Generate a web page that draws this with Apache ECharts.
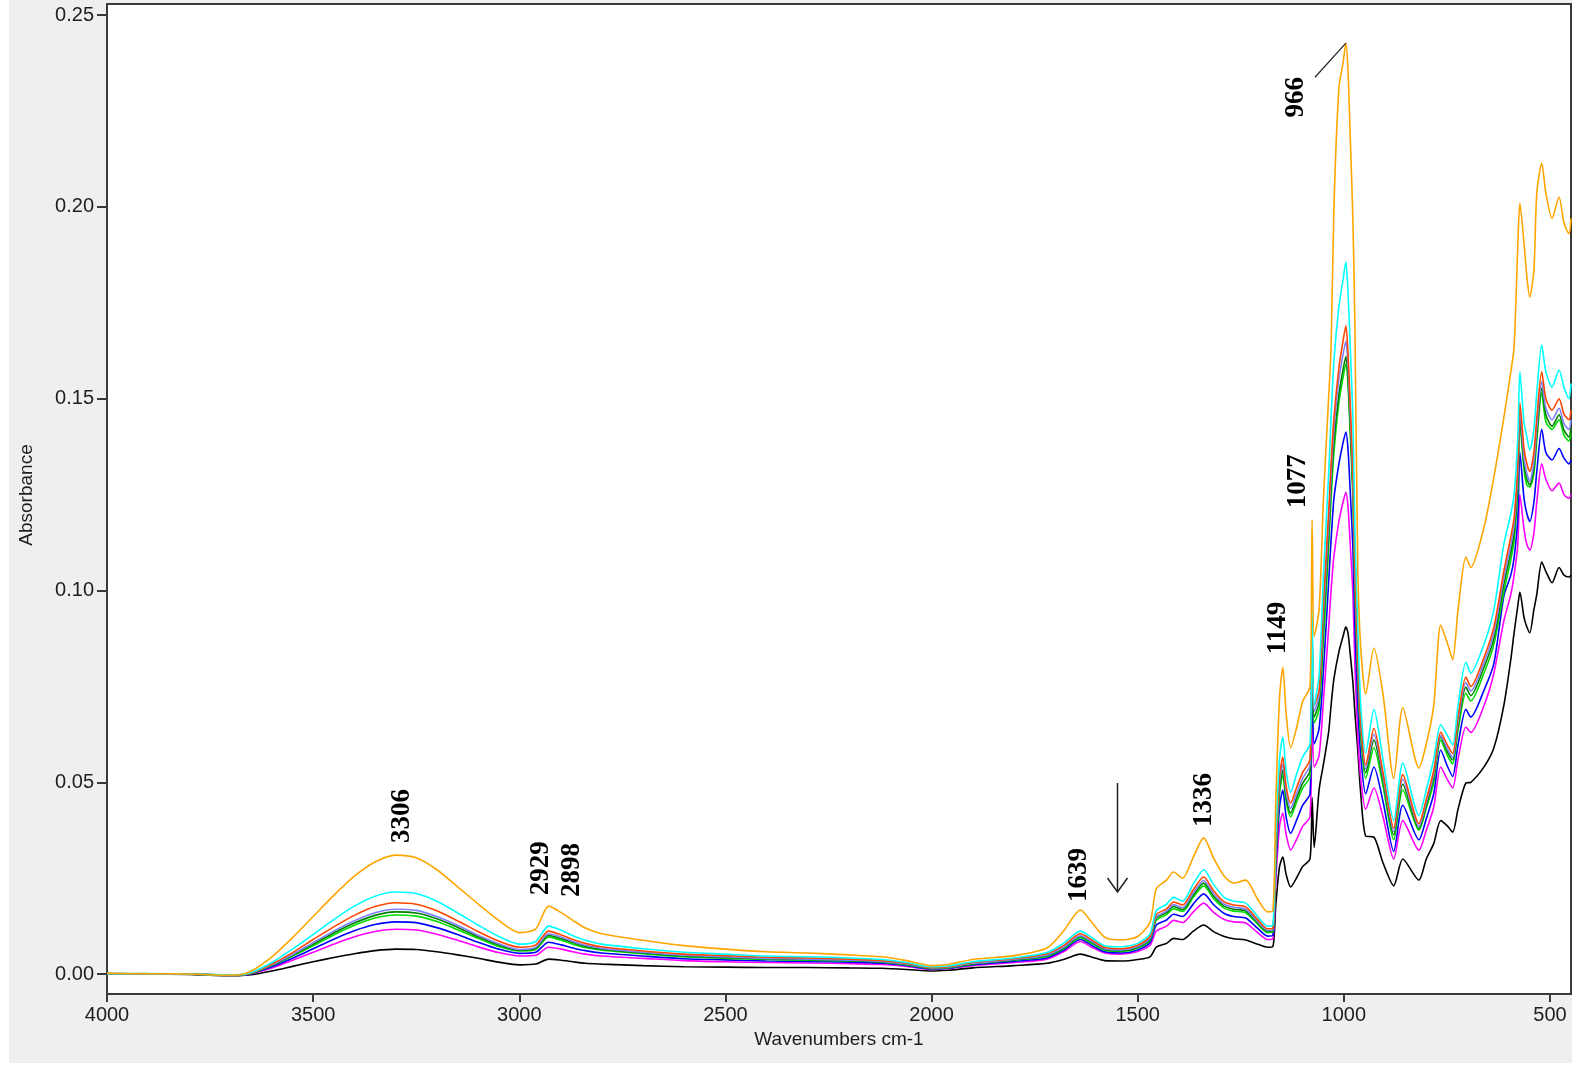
<!DOCTYPE html>
<html>
<head>
<meta charset="utf-8">
<title>FTIR absorbance spectra</title>
<script src="https://cdn.jsdelivr.net/npm/echarts@6/dist/echarts.min.js"></script>
<style>
  html, body { margin: 0; padding: 0; background: #ffffff; }
  #wrap { position: relative; width: 1572px; height: 1065px; overflow: hidden; }
  #panel { position: absolute; left: 9px; top: 0; width: 1563px; height: 1063px; background: #efefef; }
  #chart { position: absolute; left: 0; top: 0; width: 1572px; height: 1065px; }
</style>
</head>
<body>
<div id="wrap">
  <div id="panel"></div>
  <div id="chart"></div>
</div>
<script>
// Wavenumber sampling points (cm-1), high to low
const wavenumbers = [
  4000, 3900, 3800, 3720, 3680, 3650, 3600, 3550, 3500, 3450,
  3400, 3350, 3300, 3250, 3200, 3150, 3100, 3050, 3000, 2960,
  2929, 2898, 2870, 2840, 2800, 2700, 2600, 2500, 2400, 2300,
  2200, 2120, 2060, 2000, 1960, 1900, 1800, 1720, 1680, 1639,
  1610, 1580, 1540, 1500, 1470, 1455, 1430, 1413, 1391, 1365,
  1340, 1315, 1290, 1267, 1238, 1209, 1185, 1172, 1165, 1156,
  1148, 1140, 1129, 1115, 1100, 1082, 1077, 1072, 1060, 1049,
  1037, 1031, 1024, 1012, 1002, 995, 990, 985, 978, 973,
  966, 959, 947, 927, 905, 879, 857, 818, 800, 782,
  765, 748, 736, 723, 704, 692, 660, 636, 612, 595,
  587, 578, 573, 563, 556, 549, 539, 532, 520, 510,
  495, 478, 466, 454, 449
];

// Absorbance of each sample
const orangeSample = [
  0.0002, 0.0001, 0.0000, -0.0003, -0.0002, 0.0008, 0.0045, 0.0095, 0.0150, 0.0205,
  0.0255, 0.0292, 0.0310, 0.0303, 0.0272, 0.0228, 0.0183, 0.0140, 0.0108, 0.0118,
  0.0177, 0.0160, 0.0140, 0.0120, 0.0105, 0.0088, 0.0074, 0.0065, 0.0058, 0.0055,
  0.0050, 0.0045, 0.0035, 0.0022, 0.0025, 0.0038, 0.0048, 0.0068, 0.0112, 0.0167,
  0.0133, 0.0096, 0.0089, 0.0098, 0.0135, 0.0222, 0.0245, 0.0266, 0.0250, 0.0305,
  0.0355, 0.0300, 0.0255, 0.0237, 0.0245, 0.0195, 0.0162, 0.0165, 0.0450, 0.0720,
  0.0800, 0.0680, 0.0590, 0.0640, 0.0710, 0.0750, 0.1185, 0.0880, 0.0950, 0.1250,
  0.1500, 0.1630, 0.2000, 0.2310, 0.2375, 0.2427, 0.2357, 0.2200, 0.1966, 0.1680,
  0.1050, 0.0850, 0.0730, 0.0850, 0.0730, 0.0510, 0.0695, 0.0537, 0.0600, 0.0700,
  0.0910, 0.0860, 0.0820, 0.0950, 0.1087, 0.1060, 0.1165, 0.1296, 0.1450, 0.1570,
  0.1635, 0.1900, 0.2010, 0.1906, 0.1817, 0.1765, 0.1835, 0.2036, 0.2114, 0.2036,
  0.1970, 0.2026, 0.1958, 0.1930, 0.1970
];
const cyanSample = [
  0.0001, 0.0001, 0.0000, -0.0002, -0.0002, 0.0004, 0.0030, 0.0065, 0.0103, 0.0142,
  0.0177, 0.0203, 0.0214, 0.0210, 0.0190, 0.0160, 0.0128, 0.0098, 0.0078, 0.0085,
  0.0125, 0.0114, 0.0100, 0.0088, 0.0078, 0.0066, 0.0057, 0.0052, 0.0047, 0.0045,
  0.0042, 0.0038, 0.0030, 0.0019, 0.0021, 0.0032, 0.0042, 0.0056, 0.0080, 0.0112,
  0.0094, 0.0074, 0.0071, 0.0080, 0.0105, 0.0165, 0.0182, 0.0200, 0.0190, 0.0235,
  0.0272, 0.0232, 0.0200, 0.0190, 0.0185, 0.0150, 0.0125, 0.0128, 0.0360, 0.0560,
  0.0618, 0.0530, 0.0474, 0.0520, 0.0566, 0.0600, 0.0950, 0.0700, 0.0780, 0.1050,
  0.1300, 0.1450, 0.1600, 0.1740, 0.1810, 0.1856, 0.1780, 0.1650, 0.1450, 0.1150,
  0.0900, 0.0700, 0.0576, 0.0690, 0.0560, 0.0400, 0.0550, 0.0414, 0.0480, 0.0560,
  0.0650, 0.0620, 0.0597, 0.0700, 0.0813, 0.0785, 0.0860, 0.0950, 0.1120, 0.1200,
  0.1250, 0.1400, 0.1570, 0.1440, 0.1400, 0.1366, 0.1420, 0.1515, 0.1640, 0.1570,
  0.1530, 0.1575, 0.1530, 0.1500, 0.1540
];
const redSample = [
  0.0001, 0.0000, 0.0000, -0.0002, -0.0002, 0.0003, 0.0026, 0.0056, 0.0090, 0.0123,
  0.0153, 0.0176, 0.0186, 0.0182, 0.0165, 0.0139, 0.0111, 0.0086, 0.0070, 0.0076,
  0.0112, 0.0102, 0.0090, 0.0080, 0.0071, 0.0060, 0.0052, 0.0048, 0.0044, 0.0042,
  0.0039, 0.0035, 0.0028, 0.0017, 0.0019, 0.0030, 0.0040, 0.0053, 0.0074, 0.0105,
  0.0088, 0.0069, 0.0066, 0.0075, 0.0098, 0.0155, 0.0170, 0.0188, 0.0180, 0.0220,
  0.0253, 0.0216, 0.0188, 0.0180, 0.0175, 0.0142, 0.0118, 0.0120, 0.0330, 0.0515,
  0.0566, 0.0490, 0.0446, 0.0485, 0.0525, 0.0560, 0.0900, 0.0700, 0.0740, 0.0980,
  0.1200, 0.1330, 0.1450, 0.1580, 0.1650, 0.1690, 0.1620, 0.1500, 0.1310, 0.1060,
  0.0820, 0.0660, 0.0545, 0.0640, 0.0525, 0.0380, 0.0520, 0.0392, 0.0455, 0.0530,
  0.0630, 0.0595, 0.0575, 0.0670, 0.0774, 0.0750, 0.0825, 0.0905, 0.1050, 0.1140,
  0.1190, 0.1330, 0.1490, 0.1370, 0.1330, 0.1310, 0.1360, 0.1450, 0.1570, 0.1500,
  0.1470, 0.1500, 0.1460, 0.1445, 0.1470
];
const lavenderSample = [
  0.0001, 0.0000, 0.0000, -0.0002, -0.0002, 0.0003, 0.0024, 0.0051, 0.0082, 0.0112,
  0.0139, 0.0160, 0.0169, 0.0166, 0.0150, 0.0127, 0.0101, 0.0079, 0.0064, 0.0070,
  0.0105, 0.0096, 0.0085, 0.0075, 0.0067, 0.0057, 0.0049, 0.0045, 0.0041, 0.0039,
  0.0036, 0.0033, 0.0026, 0.0016, 0.0018, 0.0028, 0.0038, 0.0050, 0.0070, 0.0100,
  0.0084, 0.0066, 0.0063, 0.0072, 0.0094, 0.0149, 0.0164, 0.0181, 0.0173, 0.0212,
  0.0244, 0.0208, 0.0182, 0.0174, 0.0169, 0.0137, 0.0114, 0.0116, 0.0320, 0.0500,
  0.0548, 0.0475, 0.0432, 0.0470, 0.0510, 0.0545, 0.0880, 0.0685, 0.0725, 0.0950,
  0.1170, 0.1300, 0.1420, 0.1550, 0.1615, 0.1650, 0.1590, 0.1470, 0.1290, 0.1040,
  0.0805, 0.0650, 0.0535, 0.0625, 0.0515, 0.0372, 0.0508, 0.0385, 0.0447, 0.0520,
  0.0622, 0.0585, 0.0565, 0.0658, 0.0760, 0.0738, 0.0812, 0.0890, 0.1032, 0.1120,
  0.1170, 0.1305, 0.1465, 0.1345, 0.1305, 0.1285, 0.1335, 0.1425, 0.1545, 0.1475,
  0.1445, 0.1475, 0.1435, 0.1420, 0.1445
];
const darkGreenSample = [
  0.0001, 0.0000, 0.0000, -0.0002, -0.0003, 0.0002, 0.0023, 0.0049, 0.0078, 0.0107,
  0.0133, 0.0153, 0.0162, 0.0159, 0.0144, 0.0122, 0.0097, 0.0076, 0.0062, 0.0067,
  0.0101, 0.0092, 0.0082, 0.0072, 0.0065, 0.0055, 0.0047, 0.0043, 0.0040, 0.0038,
  0.0035, 0.0032, 0.0025, 0.0015, 0.0017, 0.0027, 0.0037, 0.0048, 0.0068, 0.0098,
  0.0082, 0.0064, 0.0061, 0.0070, 0.0091, 0.0145, 0.0160, 0.0176, 0.0168, 0.0206,
  0.0237, 0.0202, 0.0177, 0.0169, 0.0165, 0.0134, 0.0111, 0.0113, 0.0310, 0.0485,
  0.0532, 0.0462, 0.0420, 0.0458, 0.0497, 0.0530, 0.0860, 0.0670, 0.0710, 0.0920,
  0.1140, 0.1270, 0.1390, 0.1510, 0.1575, 0.1610, 0.1555, 0.1440, 0.1265, 0.1020,
  0.0790, 0.0638, 0.0525, 0.0610, 0.0505, 0.0363, 0.0495, 0.0379, 0.0440, 0.0512,
  0.0618, 0.0578, 0.0558, 0.0648, 0.0748, 0.0726, 0.0800, 0.0875, 0.1015, 0.1100,
  0.1150, 0.1285, 0.1448, 0.1330, 0.1290, 0.1275, 0.1320, 0.1408, 0.1528, 0.1458,
  0.1428, 0.1458, 0.1418, 0.1400, 0.1425
];
const greenSample = [
  0.0000, 0.0000, 0.0000, -0.0003, -0.0003, 0.0002, 0.0022, 0.0047, 0.0074, 0.0102,
  0.0127, 0.0146, 0.0154, 0.0151, 0.0137, 0.0116, 0.0093, 0.0072, 0.0060, 0.0064,
  0.0097, 0.0088, 0.0078, 0.0069, 0.0062, 0.0053, 0.0045, 0.0041, 0.0038, 0.0036,
  0.0034, 0.0031, 0.0024, 0.0014, 0.0016, 0.0026, 0.0036, 0.0046, 0.0066, 0.0095,
  0.0079, 0.0062, 0.0059, 0.0068, 0.0088, 0.0140, 0.0155, 0.0170, 0.0163, 0.0200,
  0.0230, 0.0196, 0.0172, 0.0164, 0.0160, 0.0130, 0.0108, 0.0110, 0.0300, 0.0470,
  0.0520, 0.0450, 0.0410, 0.0447, 0.0485, 0.0515, 0.0850, 0.0655, 0.0690, 0.0880,
  0.1110, 0.1240, 0.1360, 0.1490, 0.1555, 0.1590, 0.1540, 0.1420, 0.1240, 0.1000,
  0.0770, 0.0620, 0.0510, 0.0590, 0.0490, 0.0350, 0.0480, 0.0375, 0.0432, 0.0500,
  0.0610, 0.0568, 0.0548, 0.0635, 0.0732, 0.0712, 0.0785, 0.0860, 0.0995, 0.1080,
  0.1130, 0.1265, 0.1436, 0.1315, 0.1275, 0.1270, 0.1305, 0.1390, 0.1515, 0.1440,
  0.1420, 0.1445, 0.1405, 0.1390, 0.1410
];
const blueSample = [
  0.0000, 0.0000, 0.0000, -0.0003, -0.0003, 0.0001, 0.0019, 0.0041, 0.0066, 0.0091,
  0.0113, 0.0129, 0.0136, 0.0134, 0.0121, 0.0103, 0.0083, 0.0065, 0.0054, 0.0057,
  0.0083, 0.0076, 0.0068, 0.0061, 0.0055, 0.0047, 0.0040, 0.0037, 0.0034, 0.0033,
  0.0031, 0.0028, 0.0022, 0.0013, 0.0015, 0.0024, 0.0033, 0.0042, 0.0062, 0.0090,
  0.0074, 0.0058, 0.0055, 0.0063, 0.0082, 0.0128, 0.0141, 0.0156, 0.0150, 0.0183,
  0.0209, 0.0180, 0.0158, 0.0150, 0.0146, 0.0119, 0.0099, 0.0101, 0.0275, 0.0435,
  0.0480, 0.0410, 0.0367, 0.0400, 0.0440, 0.0470, 0.0780, 0.0600, 0.0640, 0.0800,
  0.1020, 0.1130, 0.1240, 0.1330, 0.1385, 0.1413, 0.1370, 0.1270, 0.1110, 0.0900,
  0.0700, 0.0570, 0.0470, 0.0540, 0.0450, 0.0320, 0.0440, 0.0350, 0.0405, 0.0470,
  0.0584, 0.0540, 0.0515, 0.0598, 0.0690, 0.0670, 0.0740, 0.0810, 0.0985, 0.1040,
  0.1085, 0.1190, 0.1360, 0.1240, 0.1200, 0.1180, 0.1230, 0.1310, 0.1420, 0.1360,
  0.1340, 0.1370, 0.1345, 0.1330, 0.1340
];
const magentaSample = [
  0.0000, 0.0000, 0.0000, -0.0003, -0.0003, 0.0001, 0.0016, 0.0036, 0.0057, 0.0078,
  0.0097, 0.0111, 0.0117, 0.0115, 0.0104, 0.0088, 0.0071, 0.0056, 0.0047, 0.0049,
  0.0070, 0.0065, 0.0058, 0.0052, 0.0047, 0.0041, 0.0035, 0.0032, 0.0030, 0.0029,
  0.0027, 0.0025, 0.0020, 0.0012, 0.0014, 0.0022, 0.0030, 0.0039, 0.0058, 0.0085,
  0.0069, 0.0055, 0.0052, 0.0059, 0.0075, 0.0112, 0.0125, 0.0140, 0.0134, 0.0162,
  0.0185, 0.0160, 0.0142, 0.0136, 0.0133, 0.0108, 0.0090, 0.0092, 0.0245, 0.0385,
  0.0420, 0.0365, 0.0323, 0.0350, 0.0385, 0.0410, 0.0700, 0.0540, 0.0570, 0.0720,
  0.0900, 0.1000, 0.1090, 0.1180, 0.1230, 0.1256, 0.1220, 0.1130, 0.0990, 0.0800,
  0.0620, 0.0510, 0.0430, 0.0485, 0.0410, 0.0300, 0.0400, 0.0323, 0.0375, 0.0435,
  0.0540, 0.0505, 0.0485, 0.0560, 0.0644, 0.0630, 0.0700, 0.0785, 0.0920, 0.0990,
  0.1040, 0.1120, 0.1250, 0.1160, 0.1120, 0.1105, 0.1150, 0.1230, 0.1330, 0.1290,
  0.1260, 0.1280, 0.1250, 0.1240, 0.1250
];
const blackSample = [
  0.0000, 0.0000, -0.0001, -0.0004, -0.0004, -0.0002, 0.0008, 0.0020, 0.0032, 0.0043,
  0.0053, 0.0061, 0.0065, 0.0064, 0.0058, 0.0050, 0.0041, 0.0031, 0.0024, 0.0026,
  0.0039, 0.0036, 0.0032, 0.0028, 0.0026, 0.0022, 0.0019, 0.0018, 0.0017, 0.0017,
  0.0016, 0.0015, 0.0012, 0.0008, 0.0010, 0.0016, 0.0022, 0.0028, 0.0038, 0.0052,
  0.0044, 0.0035, 0.0034, 0.0038, 0.0045, 0.0070, 0.0080, 0.0093, 0.0090, 0.0112,
  0.0128, 0.0110, 0.0098, 0.0092, 0.0089, 0.0078, 0.0070, 0.0072, 0.0180, 0.0280,
  0.0305, 0.0260, 0.0227, 0.0250, 0.0280, 0.0300, 0.0460, 0.0330, 0.0480, 0.0550,
  0.0630, 0.0700, 0.0770, 0.0840, 0.0880, 0.0905, 0.0890, 0.0840, 0.0760, 0.0680,
  0.0580, 0.0470, 0.0360, 0.0357, 0.0290, 0.0230, 0.0300, 0.0245, 0.0300, 0.0340,
  0.0400, 0.0385, 0.0370, 0.0430, 0.0498, 0.0500, 0.0540, 0.0590, 0.0700, 0.0820,
  0.0890, 0.0960, 0.0996, 0.0930, 0.0905, 0.0890, 0.0950, 0.0990, 0.1074, 0.1050,
  0.1020, 0.1060, 0.1040, 0.1035, 0.1040
];

// Axis tick values
const xTicks = [4000, 3500, 3000, 2500, 2000, 1500, 1000, 500];
const yTicks = [0, 0.05, 0.10, 0.15, 0.20, 0.25];

// Peak labels: text, anchor of the label centre in data space
const peakLabels = [
  { text: '3306', at: [3284, 0.0412] },
  { text: '2929', at: [2947, 0.0276] },
  { text: '2898', at: [2871, 0.0271] },
  { text: '1639', at: [1643, 0.0258] },
  { text: '1336', at: [1340, 0.0454] },
  { text: '1149', at: [1160, 0.0902] },
  { text: '1077', at: [1112, 0.1285] },
  { text: '966',  at: [1117, 0.2286] }
];
// Leader from the 966 label to the top of the main band
const leader = { from: [1070, 0.2338], to: [995, 0.2427] };
// Downward arrow marking the 1550 region
const arrow = { from: [1549, 0.0498], to: [1549, 0.0214] };

// Drawing order: lowest trace first, so the upper traces sit on top
const traces = [
  { name: 'Sample 9', color: '#000000', values: blackSample },
  { name: 'Sample 8', color: '#ff00ff', values: magentaSample },
  { name: 'Sample 7', color: '#0000ff', values: blueSample },
  { name: 'Sample 6', color: '#00dd00', values: greenSample },
  { name: 'Sample 5', color: '#008000', values: darkGreenSample },
  { name: 'Sample 4', color: '#8080ff', values: lavenderSample },
  { name: 'Sample 3', color: '#ff4500', values: redSample },
  { name: 'Sample 2', color: '#00ffff', values: cyanSample },
  { name: 'Sample 1', color: '#ffa500', values: orangeSample }
];

const chart = echarts.init(document.getElementById('chart'), null, { renderer: 'canvas' });

const tickLabelStyle = {
  color: '#1e1e1e',
  fontFamily: '"Liberation Sans", Arial, sans-serif',
  fontSize: 20
};

chart.setOption({
  animation: false,
  backgroundColor: 'transparent',
  grid: {
    left: 107, right: 1, top: 4, bottom: 71,
    show: true,
    backgroundColor: '#ffffff',
    borderColor: '#3a3a3a',
    borderWidth: 2
  },
  xAxis: {
    type: 'value',
    inverse: true,
    min: 449,
    max: 4000,
    splitLine: { show: false },
    axisLine: { show: true, onZero: false, lineStyle: { color: '#3a3a3a', width: 2 } },
    axisTick: { show: true, inside: false, length: 8, customValues: xTicks,
                lineStyle: { color: '#3a3a3a', width: 2 } },
    axisLabel: Object.assign({ margin: 11, customValues: xTicks,
                               formatter: v => String(v) }, tickLabelStyle)
  },
  yAxis: {
    type: 'value',
    min: -0.0052,
    max: 0.2529,
    splitLine: { show: false },
    axisLine: { show: true, onZero: false, lineStyle: { color: '#3a3a3a', width: 2 } },
    axisTick: { show: true, inside: false, length: 10, customValues: yTicks,
                lineStyle: { color: '#3a3a3a', width: 2 } },
    axisLabel: Object.assign({ margin: 13, customValues: yTicks,
                               formatter: v => v.toFixed(2) }, tickLabelStyle)
  },
  series: traces.map(t => ({
    name: t.name,
    type: 'line',
    showSymbol: false,
    symbol: 'none',
    smooth: 0.25,
    clip: true,
    color: t.color,
    lineStyle: { color: t.color, width: 1.6 },
    data: wavenumbers.map((w, i) => [w, t.values[i]])
  }))
});

// Annotations placed through the axes' own scales
function px(p) { return chart.convertToPixel({ gridIndex: 0 }, p); }

const graphics = [];
peakLabels.forEach(l => {
  const c = px(l.at);
  graphics.push({
    type: 'text',
    x: c[0], y: c[1],
    rotation: Math.PI / 2,
    silent: true,
    z: 100,
    style: {
      text: l.text,
      fill: '#000000',
      font: 'bold 27px "Liberation Serif", "Times New Roman", serif',
      align: 'center',
      verticalAlign: 'middle'
    }
  });
});

const la = px(leader.from), lb = px(leader.to);
graphics.push({
  type: 'line', silent: true, z: 100,
  shape: { x1: la[0], y1: la[1], x2: lb[0], y2: lb[1] },
  style: { stroke: '#222222', lineWidth: 1.2 }
});

const aa = px(arrow.from), ab = px(arrow.to);
graphics.push({
  type: 'line', silent: true, z: 100,
  shape: { x1: aa[0], y1: aa[1], x2: ab[0], y2: ab[1] },
  style: { stroke: '#222222', lineWidth: 1.5 }
});
graphics.push({
  type: 'polyline', silent: true, z: 100,
  shape: { points: [[ab[0] - 10, ab[1] - 14], [ab[0], ab[1]], [ab[0] + 10, ab[1] - 14]] },
  style: { stroke: '#222222', lineWidth: 1.5, fill: null }
});

// Axis titles
const plotLeft = px([4000, 0])[0];
const plotRight = px([449, 0])[0];
const plotTop = px([4000, 0.2529])[1];
const plotBottom = px([4000, -0.0052])[1];
graphics.push({
  type: 'text', silent: true, z: 100,
  x: (plotLeft + plotRight) / 2, y: plotBottom + 46,
  style: {
    text: 'Wavenumbers cm-1', fill: '#1e1e1e',
    font: '19px "Liberation Sans", Arial, sans-serif',
    align: 'center', verticalAlign: 'middle'
  }
});
graphics.push({
  type: 'text', silent: true, z: 100,
  x: 27, y: (plotTop + plotBottom) / 2 - 4,
  rotation: Math.PI / 2,
  style: {
    text: 'Absorbance', fill: '#1e1e1e',
    font: '19px "Liberation Sans", Arial, sans-serif',
    align: 'center', verticalAlign: 'middle'
  }
});

chart.setOption({ graphic: graphics });
</script>
</body>
</html>
